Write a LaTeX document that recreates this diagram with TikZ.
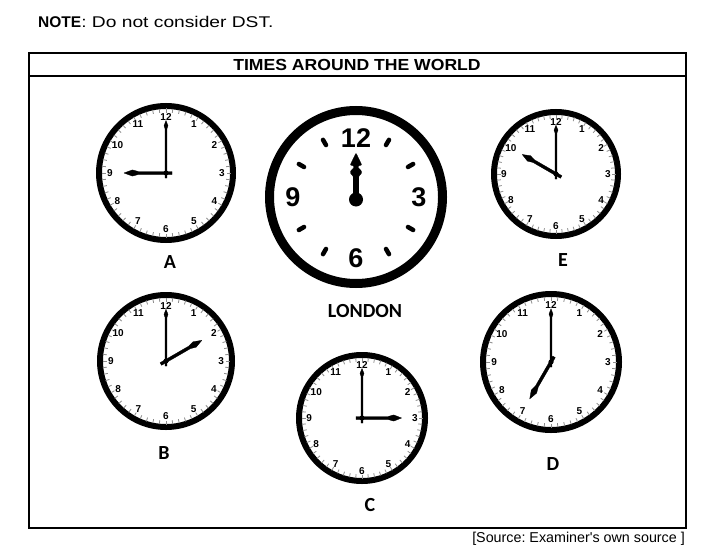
\documentclass[tikz,border=0pt]{standalone}
\usepackage{fontspec}
\setmainfont{Liberation Sans}
\newfontfamily\srcfont{Liberation Sans}
\newfontfamily\calib{Carlito}
\usetikzlibrary{calc}
\frenchspacing
\tikzset{
  ring/.style={line width=6pt},
  bigring/.style={line width=9pt},
  mtick/.style={line width=0.8pt, black!45},
  num/.style={font=\fontsize{10}{10}\selectfont\bfseries, inner sep=0pt},
  bignum/.style={font=\fontsize{27}{27}\selectfont\bfseries, inner sep=0pt},
  bigtick/.style={line width=4.5pt, line cap=round},
  lbl/.style={font=\calib\bfseries\fontsize{20}{20}\selectfont, inner sep=0pt},
  handfill/.style={fill=black, draw=black, line width=0.3pt, line join=round},
  frame/.style={line width=2pt},
  sepline/.style={line width=1.5pt},
}
% name, cx, cy, R, hour angle (clockwise from 12)
\newcommand\smallclock[5]{%
  \begin{scope}[shift={(#2,#3)}]
    \pgfmathsetmacro\hlen{0.6*#4}
    \pgfmathsetmacro\mlen{0.75*#4}
    \coordinate (#1) at (0,0);
    \draw[ring] (0,0) circle ({#4-3});
    \foreach \m in {0,...,59}{\draw[mtick] (\m*6:{#4-5.5}) -- (\m*6:{#4-9.5});}
    \foreach \h in {1,...,12}{\node[num] (#1-\h) at ({-90+30*\h}:{0.8*#4}) {\h};}
    \begin{scope}[rotate=-#5]
      \filldraw[handfill] (-1.5,6) -- (-1.5,{-0.66*\hlen}) -- (-3.1,{-0.8*\hlen}) -- (0,-\hlen)
        -- (3.1,{-0.8*\hlen}) -- (1.5,{-0.66*\hlen}) -- (1.5,6) -- cycle;
    \end{scope}
    \filldraw[handfill] (-0.9,5) -- (-0.9,{-0.84*\mlen}) -- (-2,{-0.9*\mlen}) -- (0,-\mlen)
      -- (2,{-0.9*\mlen}) -- (0.9,{-0.84*\mlen}) -- (0.9,5) -- cycle;
    \fill (0,0) circle (2.6);
  \end{scope}}
\begin{document}
\begin{tikzpicture}[x=1pt,y=-1pt]
  \useasboundingbox (0,0) rectangle (719,559);
  % note
  \node[anchor=base west, inner sep=0pt, font=\fontsize{15.5}{15.5}\selectfont] (note) at (38,28)
    {\textbf{NOTE}\scalebox{1.24}[1]{: Do not consider DST.}};
  % frame
  \draw[frame] (29,53) rectangle (686,528);
  \coordinate (sepL) at (29,76);
  \coordinate (sepR) at (686,76);
  \draw[sepline] (sepL) -- (sepR);
  \node[anchor=base, inner sep=0pt, font=\fontsize{16}{16}\selectfont\bfseries] (title) at (357,70.5)
    {\scalebox{1.1}[1]{TIMES AROUND THE WORLD}};
  % small clocks
  \smallclock{A}{166}{173}{70}{270}
  \smallclock{B}{166}{361}{69}{60}
  \smallclock{C}{362}{418}{66}{90}
  \smallclock{D}{551}{362}{71}{210}
  \smallclock{E}{556}{174}{65}{300}
  % London clock
  \begin{scope}[shift={(356,197)}]
    \coordinate (L) at (0,0);
    \draw[bigring] (0,0) circle (86.5);
    \node[bignum] (L-12) at (0,-59) {12};
    \node[bignum] (L-3) at (63,0) {3};
    \node[bignum] (L-6) at (0,61) {6};
    \node[bignum] (L-9) at (-63,0) {9};
    \foreach \h in {1,2,4,5,7,8,10,11}{\draw[bigtick] ({-90+30*\h}:60) -- ({-90+30*\h}:66);}
    \filldraw[handfill, rounded corners=0.8pt] (-2.8,2) -- (-2.8,-21) -- (-5.5,-23.5) -- (-5.5,-26) -- (-2,-29.5)
      -- (-2,-31) -- (-5.8,-32) -- (0,-44) -- (5.8,-32) -- (2,-31) -- (2,-29.5) -- (5.5,-26)
      -- (5.5,-23.5) -- (2.8,-21) -- (2.8,2) -- cycle;
    \fill (0,2.5) circle (7);
  \end{scope}
  % labels
  \node[lbl] (labA) at (170,262) {A};
  \node[lbl] (labB) at (164,453) {B};
  \node[lbl] (labC) at (370,505) {C};
  \node[lbl] (labD) at (553,464) {D};
  \node[lbl] (labE) at (563,260) {E};
  \node[lbl] (labL) at (365,311) {LONDON};
  % source
  \node[anchor=base east, inner sep=0pt, font=\srcfont\fontsize{14.3}{14.3}\selectfont] (src) at (685,542)
    {[Source: Examiner's own source ]};
\end{tikzpicture}
\end{document}
